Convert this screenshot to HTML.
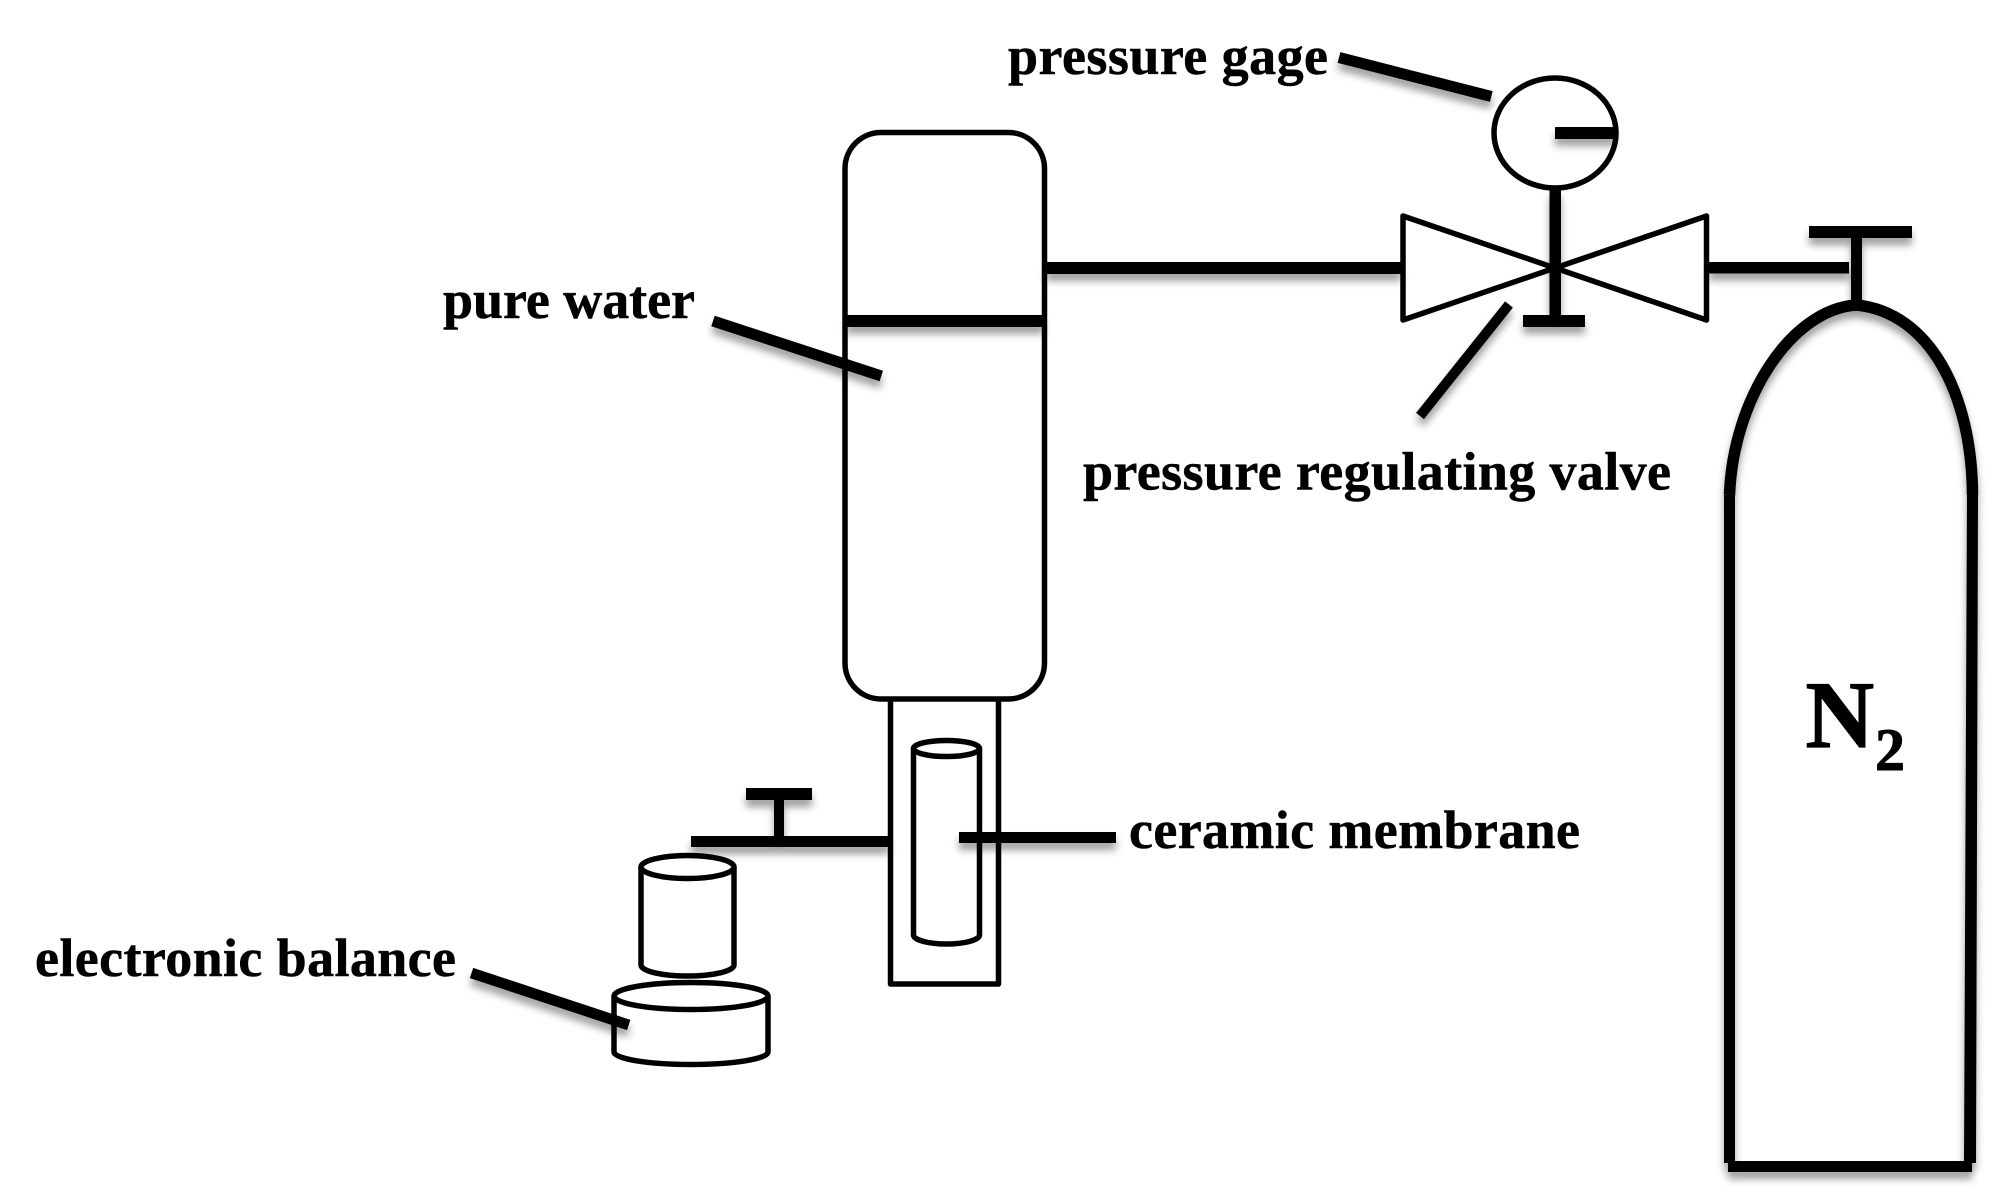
<!DOCTYPE html>
<html>
<head>
<meta charset="utf-8">
<style>
html,body{margin:0;padding:0;background:#fff;width:2000px;height:1201px;overflow:hidden}
svg{display:block}
text{font-family:"Liberation Serif",serif;font-weight:bold;fill:#000;stroke:#000;stroke-width:.5px;font-size:54px}
</style>
</head>
<body>
<svg width="2000" height="1201" viewBox="0 0 2000 1201" xmlns="http://www.w3.org/2000/svg">
<defs>
<filter id="s" x="0" y="0" width="2000" height="1201" filterUnits="userSpaceOnUse">
<feDropShadow dx="0" dy="7" stdDeviation="4" flood-color="#000" flood-opacity="0.38"/>
</filter>
</defs>
<rect width="2000" height="1201" fill="#fff"/>
<g fill="none" stroke="#000" stroke-width="5.5" stroke-linejoin="round">
  <rect x="845" y="132.5" width="199.5" height="566.5" rx="36" ry="36"/>
  <path d="M890.5 700V984H998.5V700"/>
  <ellipse cx="946.5" cy="748.5" rx="33" ry="8"/>
  <path d="M913.5 748.5V935A33 9 0 0 0 979.5 935V748.5"/>
  <ellipse cx="687.5" cy="867" rx="46.5" ry="11.5"/>
  <path d="M641 867V965A46.5 11 0 0 0 734 965V867"/>
  <ellipse cx="691" cy="996" rx="77" ry="13.5"/>
  <path d="M614 996V1052A77 12.5 0 0 0 768 1052V996"/>
  <ellipse cx="1555" cy="133" rx="61" ry="55"/>
  <path d="M1555 268L1403 216V320ZM1555 268L1706.5 216V320Z" stroke-width="5.5"/>
</g>
<g fill="#000" filter="url(#s)">
  <rect x="846" y="315" width="198" height="12"/>
  <rect x="1046" y="262" width="355" height="12"/>
  <rect x="1709" y="262" width="140" height="11.5"/>
  <rect x="1555" y="127" width="60" height="12"/>
  <rect x="1549.5" y="190" width="11.5" height="125"/>
  <rect x="1523" y="315" width="62" height="12"/>
  <rect x="1809" y="226" width="103" height="12"/>
  <rect x="1851" y="238" width="11" height="64"/>
  <rect x="691" y="836" width="198" height="11"/>
  <rect x="774" y="800" width="10" height="36"/>
  <rect x="746" y="788" width="66" height="12"/>
  <rect x="959" y="832" width="162" height="11" style="width:157px"/>
  <rect x="1724" y="495" width="11" height="668"/>
  <polygon points="1967,495 1978,495 1976,1163 1964,1163"/>
  <rect x="1728" y="1161" width="244" height="11"/>
</g>
<g fill="none" stroke="#000" filter="url(#s)">
  <path d="M1729.5 495C1733 400 1790 310 1856 305C1930 312 1972 395 1972.5 495" stroke-width="11.5"/>
  <path d="M1339 57.5L1491.3 96.5" stroke-width="11"/>
  <path d="M1509 304.5L1420 416" stroke-width="10"/>
  <path d="M713 321L881.3 376" stroke-width="11"/>
  <path d="M471.5 973L628.7 1025" stroke-width="10.7"/>
</g>
<text x="1008" y="74" textLength="320">pressure gage</text>
<text x="1083" y="489.5" textLength="588">pressure regulating valve</text>
<text x="443" y="318" textLength="252">pure water</text>
<text x="1129" y="848" textLength="451">ceramic membrane</text>
<text x="35" y="976" textLength="421">electronic balance</text>
<text x="1805.5" y="747" style="font-size:95px;stroke-width:1.2px">N</text>
<text x="1875" y="770" style="font-size:60px;stroke-width:1px">2</text>
</svg>
</body>
</html>
